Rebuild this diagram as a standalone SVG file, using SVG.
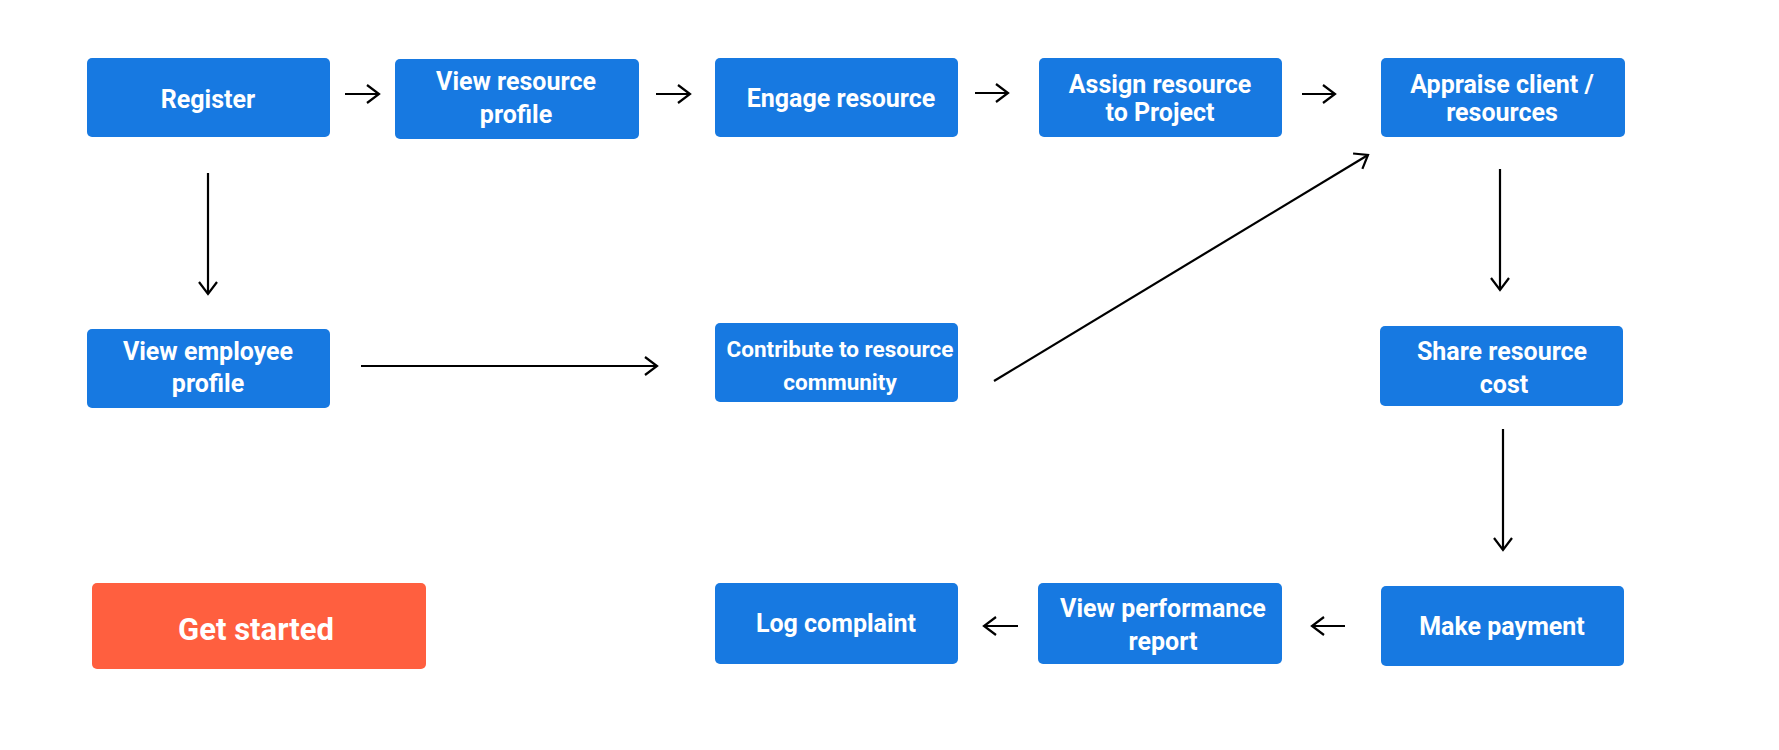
<svg xmlns="http://www.w3.org/2000/svg" width="1779" height="750" viewBox="0 0 1779 750">
<style>
.box{fill:#1779e1}
.start{fill:#ff5f3f}
.t{fill:#fff;font-family:Roboto,"Liberation Sans",sans-serif;font-weight:700;font-size:25px;text-anchor:middle}
.ts{font-size:22.5px}
.tl{font-size:31px}
.c{fill:none;stroke:#000;stroke-width:2.2;marker-end:url(#ah)}
</style>
<defs>
<marker id="ah" markerUnits="userSpaceOnUse" markerWidth="16" markerHeight="22" refX="13" refY="10" orient="auto">
<path d="M1,1 L13,10 L1,19" fill="none" stroke="#000" stroke-width="2.2"/>
</marker>
</defs>
<rect width="1779" height="750" fill="#fff"/>
<g id="connectors">
<line class="c" x1="345" y1="94" x2="379" y2="94"/>
<line class="c" x1="656" y1="94" x2="690" y2="94"/>
<line class="c" x1="975" y1="93" x2="1008" y2="93"/>
<line class="c" x1="1302" y1="94" x2="1335" y2="94"/>
<line class="c" x1="208" y1="173" x2="208" y2="294"/>
<line class="c" x1="361" y1="366" x2="657" y2="366"/>
<line class="c" x1="994" y1="381" x2="1368" y2="155"/>
<line class="c" x1="1500" y1="169" x2="1500" y2="290"/>
<line class="c" x1="1503" y1="429" x2="1503" y2="550"/>
<line class="c" x1="1345" y1="626" x2="1312" y2="626"/>
<line class="c" x1="1018" y1="626" x2="984" y2="626"/>
</g>
<g id="register"><rect class="box" x="87" y="58" width="243" height="79" rx="5"/><text class="t" x="208" y="108">Register</text></g>
<g id="view-resource-profile"><rect class="box" x="395" y="59" width="244" height="80" rx="5"/><text class="t" x="516" y="90">View resource</text><text class="t" x="516" y="123">profile</text></g>
<g id="engage-resource"><rect class="box" x="715" y="58" width="243" height="79" rx="5"/><text class="t" x="841" y="107">Engage resource</text></g>
<g id="assign-resource"><rect class="box" x="1039" y="58" width="243" height="79" rx="5"/><text class="t" x="1160" y="93">Assign resource</text><text class="t" x="1160" y="121">to Project</text></g>
<g id="appraise"><rect class="box" x="1381" y="58" width="244" height="79" rx="5"/><text class="t" x="1502" y="93">Appraise client /</text><text class="t" x="1502" y="121">resources</text></g>
<g id="view-employee-profile"><rect class="box" x="87" y="329" width="243" height="79" rx="5"/><text class="t" x="208" y="360">View employee</text><text class="t" x="208" y="392">profile</text></g>
<g id="contribute"><rect class="box" x="715" y="323" width="243" height="79" rx="5"/><text class="t ts" x="840" y="357">Contribute to resource</text><text class="t ts" x="840" y="390">community</text></g>
<g id="share-resource-cost"><rect class="box" x="1380" y="326" width="243" height="80" rx="5"/><text class="t" x="1502" y="360">Share resource</text><text class="t" x="1504" y="393">cost</text></g>
<g id="get-started"><rect class="start" x="92" y="583" width="334" height="86" rx="5"/><text class="t tl" x="256" y="640">Get started</text></g>
<g id="log-complaint"><rect class="box" x="715" y="583" width="243" height="81" rx="5"/><text class="t" x="836" y="632">Log complaint</text></g>
<g id="view-performance-report"><rect class="box" x="1038" y="583" width="244" height="81" rx="5"/><text class="t" x="1163" y="617">View performance</text><text class="t" x="1163" y="650">report</text></g>
<g id="make-payment"><rect class="box" x="1381" y="586" width="243" height="80" rx="5"/><text class="t" x="1502" y="635">Make payment</text></g>
</svg>
